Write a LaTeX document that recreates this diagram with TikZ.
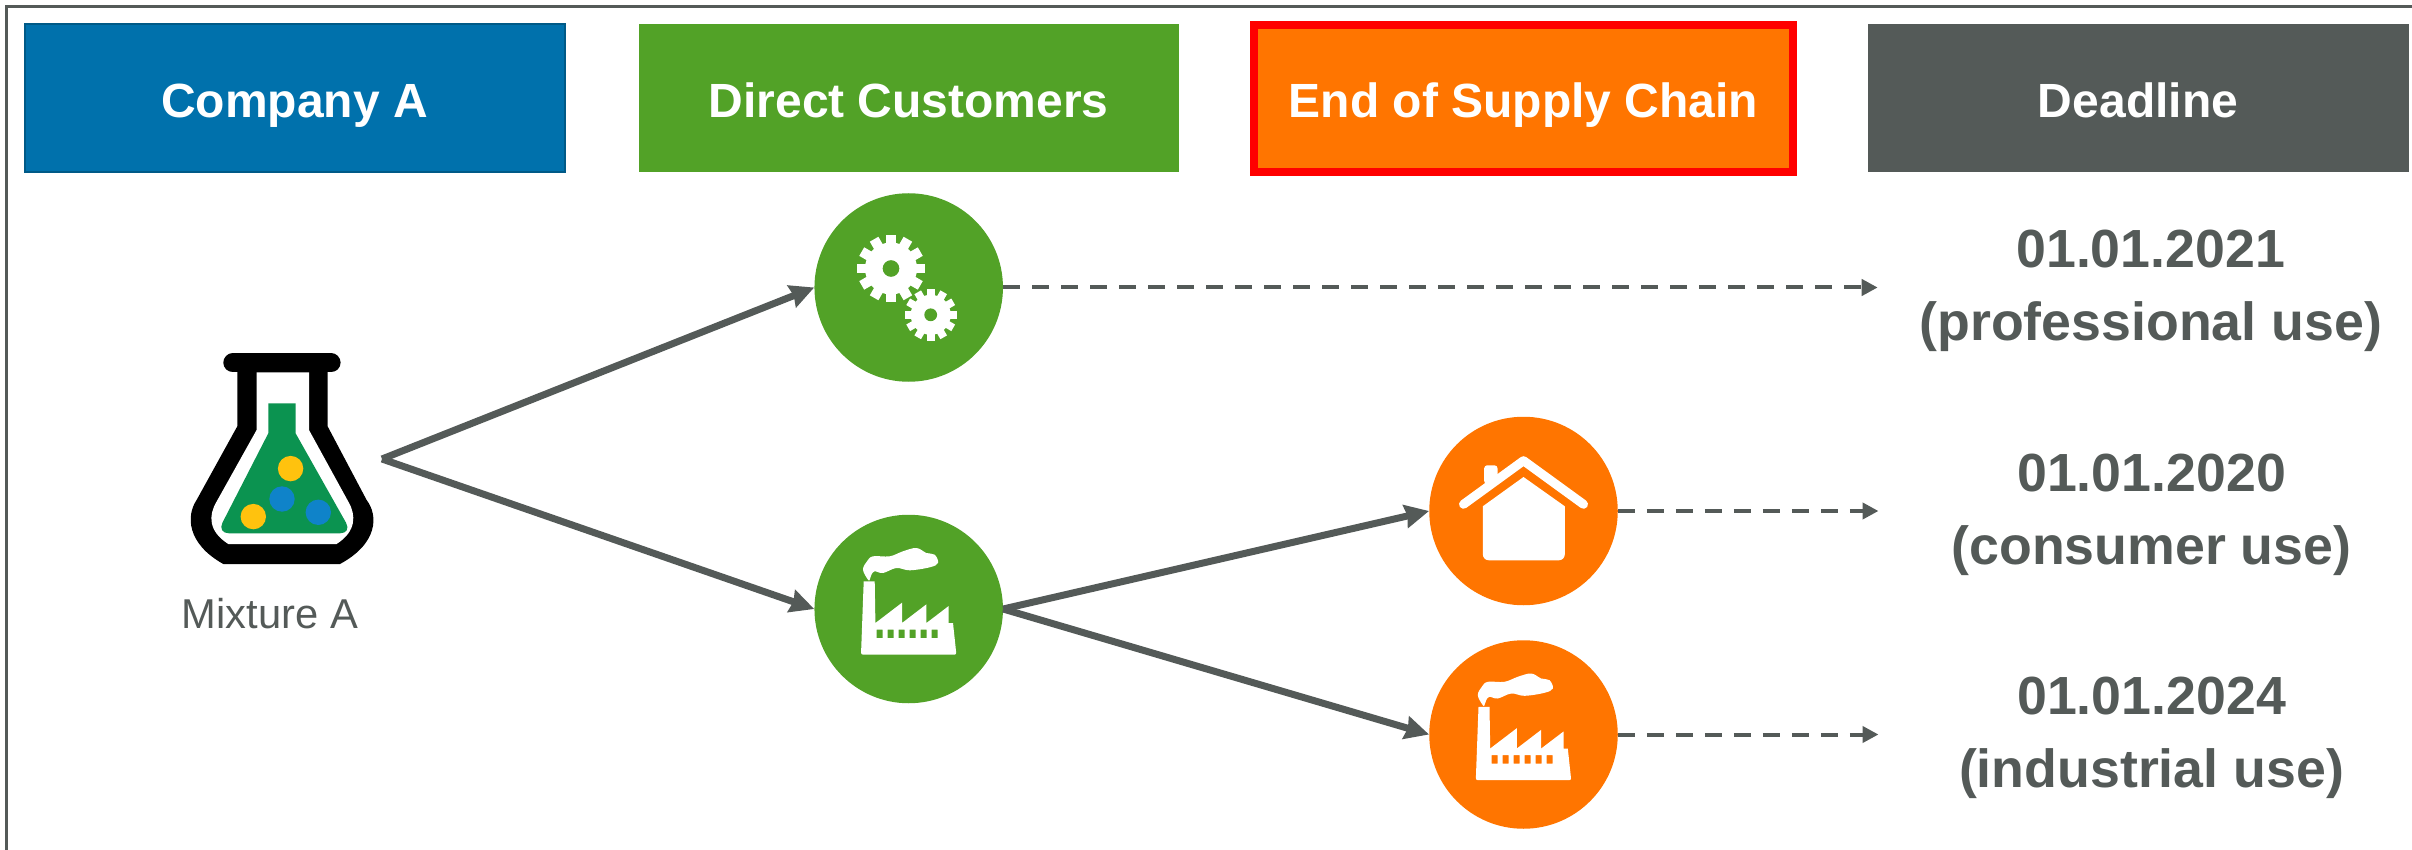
\documentclass[tikz,border=0pt]{standalone}
\usepackage{fontspec}
\setmainfont{Liberation Sans}
\usepackage{xcolor}
\usetikzlibrary{arrows.meta}
\definecolor{slate}{HTML}{545A58}
\definecolor{leaf}{HTML}{52A227}
\definecolor{tangerine}{HTML}{FF7500}
\definecolor{ocean}{HTML}{0071AC}
\definecolor{oceandark}{HTML}{005A87}
\definecolor{flaskgreen}{HTML}{0B9350}
\definecolor{ballyellow}{HTML}{FFC20E}
\definecolor{ballblue}{HTML}{0F83C9}
\tikzset{
  supplychain/.style={
    x=1pt,y=-1pt,>={Stealth[length=24pt,width=23pt,inset=2pt]}
  },
  headbox/.style={
    minimum width=540pt,minimum height=148pt,inner sep=0pt,text=white,
    text height=37.6pt,text depth=0pt,font=\fontsize{48}{58}\selectfont\bfseries
  },
  usecircle/.style={circle,minimum size=188.5pt,inner sep=0pt},
  flow/.style={->,line width=7pt,color=slate},
  toline/.style={
    -{Triangle[length=16pt,width=16pt]},line width=4pt,color=slate,
    dash pattern=on 17pt off 12pt
  },
  datelabel/.style={
    align=center,inner sep=0pt,text=slate,yshift=-3.5pt,
    font=\fontsize{53.7}{73}\selectfont\bfseries
  },
  gear/.pic={
    \fill[white] (0,0) circle (#1);
    \foreach \ang in {0,30,...,150}
      \fill[white,rotate=\ang] (-1.3*#1,-0.19*#1) rectangle (1.3*#1,0.19*#1);
    \fill[leaf] (0,0) circle (0.32*#1);
  },
  factoryicon/.pic={
    \fill[white,even odd rule]
      (-45,-27.7) -- (-34,-27.7) -- (-33.3,14) -- (-6.7,-6.3) -- (-6.7,14)
      -- (17.7,-4.7) -- (17.7,14) -- (40,-3) -- (40,14) -- (44.3,14)
      [rounded corners=2pt] -- (47.7,45.7) -- (-47.7,45.7) [sharp corners] -- cycle
      \foreach \wx in {-32,-21,-10,1,12,23} {
        (\wx,20.7) rectangle (\wx+6,29)
      };
    \fill[white] plot[smooth cycle,tension=0.6] coordinates {
      (-40.7,-29.3) (-45.7,-39.3) (-41.7,-47.7) (-35.7,-52.7) (-19,-52.7)
      (-5.7,-57.7) (7.7,-61) (17.7,-56) (26,-54.3) (29.3,-46) (21,-41.7)
      (1,-38.7) (-12.3,-41) (-25.7,-36) (-34,-37.7) (-37.3,-34.3) (-39,-29.3)
    };
  },
  homeicon/.pic={
    \fill[white,rounded corners=3pt] (-39.3,-27) rectangle (-26,-45.7);
    \draw[white,line width=9pt,line cap=round,line join=round]
      (-60,-6.7) -- (0,-50.3) -- (60,-6.7);
    \fill[white] (-40.7,-4.7) -- (0,-34) -- (41.3,-4.7)
      [rounded corners=6pt] -- (41.3,49.3) -- (-40.7,49.3) [sharp corners] -- cycle;
  },
  flaskicon/.pic={
    \fill[black] (-45,-85) -- (-45,-27) -- (-85.7,46.7)
      .. controls (-96,62) and (-96,90) .. (-59,110.7) -- (57.7,110.7)
      .. controls (96,90) and (96,62) .. (84.3,46.7)
      -- (45.3,-27) -- (45.3,-85) -- cycle;
    \draw[black,line width=19pt,line cap=round] (-49.5,-90.5) -- (48.8,-90.5);
    \fill[white] (-25.7,-81) -- (-25.7,-23.3) -- (-65.7,48.3)
      .. controls (-74,62) and (-74,78) .. (-54,90.7) -- (54.3,90.7)
      .. controls (74,78) and (74,62) .. (66,48.3)
      -- (26.7,-23.3) -- (26.7,-81) -- cycle;
    \fill[flaskgreen] (-14,-50) -- (13.3,-50) -- (13.3,-20)
      [rounded corners=12pt] -- (69.7,80) -- (-65.3,80) [sharp corners]
      -- (-14,-20) -- cycle;
    \fill[ballyellow] (8.3,15.3) circle (12.7);
    \fill[ballblue] (-0.3,45.7) circle (12.7);
    \fill[ballyellow] (-29,63.3) circle (12.7);
    \fill[ballblue] (36,59) circle (12.7);
  },
}

\begin{document}
\begin{tikzpicture}[supplychain]
  \useasboundingbox (0,0) rectangle (2412,850);
  \draw[slate,line width=3pt] (6.5,850) -- (6.5,6.5) -- (2412,6.5);
  \node (company) [headbox,fill=ocean,draw=oceandark,line width=2pt] at (294.5,98.5) {Company A};
  \node (direct) [headbox,fill=leaf,right of=company,node distance=614.2pt] {Direct Customers};
  \node (endchain) [headbox,fill=tangerine,draw=red,line width=8pt,minimum width=539pt,minimum height=147pt,right of=direct,node distance=614.8pt] {End of Supply Chain};
  \node (deadline) [headbox,fill=slate,minimum width=541pt,right of=endchain,node distance=614.5pt] {Deadline};
  \node (gears) [usecircle,fill=leaf,below of=direct,node distance=189pt] {};
  \node (factory) [usecircle,fill=leaf,below of=gears,node distance=321.5pt] {};
  \node (home) [usecircle,fill=tangerine,below of=endchain,node distance=412.5pt] {};
  \node (plant) [usecircle,fill=tangerine,below of=home,node distance=223.5pt] {};
  \coordinate (flask) at (282.3,453.3);
  \coordinate (split) at (382,459);
  \node (mixture) [text=slate,font=\fontsize{41.7}{50}\selectfont,anchor=base] at (270,628) {Mixture A};
  \node (date2021) [datelabel,right of=gears,node distance=1242pt] {01.01.2021\\(professional use)};
  \node (date2020) [datelabel,right of=home,node distance=628pt] {01.01.2020\\(consumer use)};
  \node (date2024) [datelabel,right of=plant,node distance=628pt] {01.01.2024\\(industrial use)};
  \coordinate[right of=gears,node distance=969pt] (tip2021);
  \coordinate[right of=home,node distance=355pt] (tip2020);
  \coordinate[right of=plant,node distance=355pt] (tip2024);
  \pic at (flask) {flaskicon};
  \pic at (gears) [xshift=-17.7pt,yshift=19pt] {gear=26};
  \pic at (gears) [xshift=22pt,yshift=-27.3pt] {gear=20};
  \pic at (factory) {factoryicon};
  \pic at (home) {homeicon};
  \pic at (plant) {factoryicon};
  \path[flow]
    (split) edge (gears.west)
    (split) edge (factory.west)
    (factory.east) edge (home.west)
    (factory.east) edge (plant.west)
    ;
  \path[toline]
    (gears.east) edge (tip2021)
    (home.east) edge (tip2020)
    (plant.east) edge (tip2024)
    ;
\end{tikzpicture}
\end{document}
